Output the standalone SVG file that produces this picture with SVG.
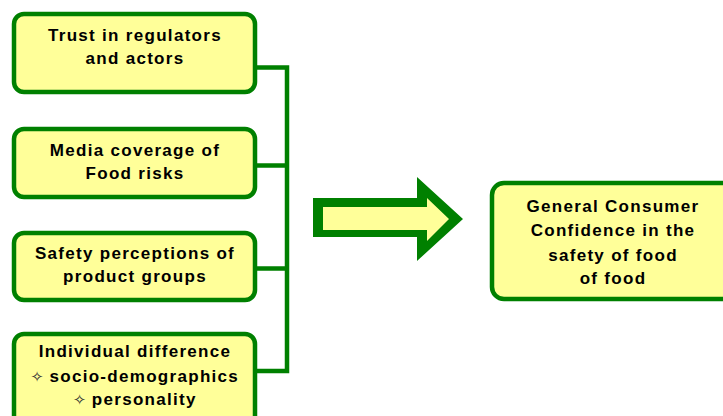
<svg xmlns="http://www.w3.org/2000/svg" width="723" height="416" viewBox="0 0 723 416">
<style>
.box{fill:#ffff99;stroke:#008000;stroke-width:4.5}
.t{font-family:"Liberation Sans",Arial,sans-serif;font-weight:bold;font-size:17px;letter-spacing:1.3px;fill:#000;text-anchor:middle}
.star{font-family:"DejaVu Sans",sans-serif;font-weight:normal;font-size:15px;letter-spacing:0;fill:#333}
.conn{fill:none;stroke:#008000;stroke-width:4.5;stroke-linejoin:miter}
</style>
<rect width="723" height="416" fill="#fff"/>
<g id="connectors">
<path class="conn" d="M257,67.5 H287 V371 H257 M257,165.5 H287 M257,268.5 H287"/>
</g>
<g id="n1">
<rect class="box" x="14" y="14" width="241" height="78" rx="10"/>
<text class="t" x="135" y="41">Trust in regulators</text>
<text class="t" x="135" y="64">and actors</text>
</g>
<g id="n2">
<rect class="box" x="14" y="129" width="241" height="68" rx="10"/>
<text class="t" x="135" y="156">Media coverage of</text>
<text class="t" x="135" y="179">Food risks</text>
</g>
<g id="n3">
<rect class="box" x="14" y="233" width="241" height="67" rx="10"/>
<text class="t" x="135" y="259">Safety perceptions of</text>
<text class="t" x="135" y="282">product groups</text>
</g>
<g id="n4">
<rect class="box" x="14" y="334" width="241" height="100" rx="10"/>
<text class="t" x="135" y="357">Individual difference</text>
<text class="t" x="135" y="382"><tspan class="star">✧</tspan> socio-demographics</text>
<text class="t" x="135" y="405"><tspan class="star">✧</tspan> personality</text>
</g>
<g id="arrow">
<polygon fill="#008000" points="313,198 417,198 417,177 463,219 417,261 417,237 313,237"/>
<polygon fill="#ffff99" points="323,207 427,207 427,198 449,219 427,241 427,230 323,230"/>
</g>
<g id="target">
<rect class="box" x="492" y="183" width="250" height="116" rx="12"/>
<text class="t" x="613" y="212">General Consumer</text>
<text class="t" x="613" y="236">Confidence in the</text>
<text class="t" x="613" y="261">safety of food</text>
<text class="t" x="613" y="284">of food</text>
</g>
</svg>
